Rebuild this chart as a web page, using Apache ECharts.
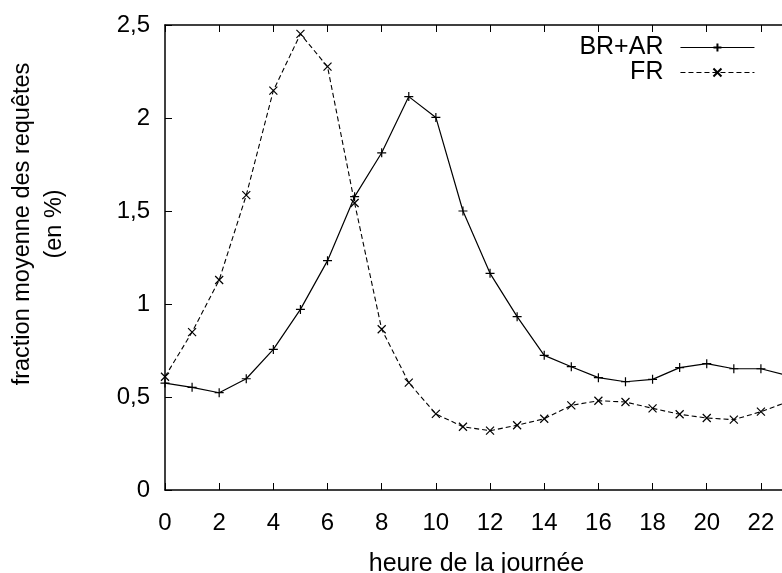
<!DOCTYPE html>
<html>
<head>
<meta charset="utf-8">
<script src="https://cdn.jsdelivr.net/npm/echarts@6/dist/echarts.min.js"></script>
<style>
html,body{margin:0;padding:0;background:#fff;}
#chart{width:782px;height:573px;}
</style>
</head>
<body>
<div id="chart"></div>
<script>
// Data
const hours = [0,1,2,3,4,5,6,7,8,9,10,11,12,13,14,15,16,17,18,19,20,21,22,23];
const brar = [0.575,0.552,0.523,0.598,0.756,0.971,1.233,1.577,1.813,2.115,2.003,1.50,1.165,0.932,0.724,0.663,0.604,0.582,0.595,0.658,0.679,0.652,0.652,0.615];
const fr   = [0.609,0.849,1.129,1.585,2.147,2.452,2.276,1.543,0.864,0.577,0.409,0.340,0.319,0.348,0.383,0.455,0.480,0.473,0.439,0.407,0.387,0.378,0.421,0.475];
const seriesNames = ['BR+AR','FR'];
const xTitle = 'heure de la journée';
const yTitle = 'fraction moyenne des requêtes\n(en %)';

const FONT = '"Liberation Sans", Arial, Helvetica, sans-serif';
const chart = echarts.init(document.getElementById('chart'), null, {renderer:'canvas'});
const pair = (arr) => hours.map((h,i)=>[h, arr[i]]);
const plus = 'path://M0,5L10,5M5,0L5,10';
const cross = 'path://M0,0L10,10M10,0L0,10';

chart.setOption({
  backgroundColor:'#fff',
  animation:false,
  textStyle:{fontFamily:FONT, color:'#000'},
  grid:{left:165, top:25, right:-6, bottom:83, containLabel:false, outerBoundsMode:'none'},
  legend:{
    orient:'vertical', right:22, top:30, align:'right',
    itemWidth:74, itemHeight:10, itemGap:0,
    lineStyle:{width:1.1},
    textStyle:{fontSize:25, color:'#000', fontFamily:FONT, padding:[0,12,0,0]},
    data:seriesNames
  },
  xAxis:[{
    type:'value', min:0, max:23, interval:2, position:'bottom',
    name:xTitle, nameLocation:'middle', nameGap:62,
    nameTextStyle:{fontSize:25, color:'#000', fontFamily:FONT},
    axisLine:{show:true, lineStyle:{color:'#000', width:1.5}},
    axisTick:{show:true, inside:true, length:7, lineStyle:{color:'#000', width:1}},
    axisLabel:{fontSize:24, color:'#000', margin:21, fontFamily:FONT,
      formatter:(v)=> v>22 ? '' : String(v)},
    splitLine:{show:false}
  },{
    type:'value', min:0, max:23, interval:2, position:'top',
    axisLine:{show:true, lineStyle:{color:'#000', width:1.5}},
    axisTick:{show:true, inside:true, length:7, lineStyle:{color:'#000', width:1}},
    axisLabel:{show:false},
    splitLine:{show:false}
  }],
  yAxis:[{
    type:'value', min:0, max:2.5, interval:0.5,
    axisLine:{show:true, lineStyle:{color:'#000', width:1.5}},
    axisTick:{show:true, inside:true, length:7, lineStyle:{color:'#000', width:1}},
    axisLabel:{fontSize:24, color:'#000', margin:15, fontFamily:FONT,
      formatter:(v)=> String(v).replace('.', ',')},
    splitLine:{show:false}
  }],
  graphic:[{
    type:'text', x:39, y:224, rotation:Math.PI/2,
    style:{text:yTitle, fontSize:23.5, fontFamily:FONT, fill:'#000',
      align:'center', verticalAlign:'middle', lineHeight:32}
  }],
  series:[{
    name:seriesNames[0], type:'line', data:pair(brar),
    symbol:plus, symbolSize:9, showAllSymbol:true,
    lineStyle:{color:'#000', width:1.2, type:'solid'},
    itemStyle:{color:'#000', borderColor:'#000', borderWidth:1.2},
    emphasis:{disabled:true}
  },{
    name:seriesNames[1], type:'line', data:pair(fr),
    symbol:cross, symbolSize:8, showAllSymbol:true,
    lineStyle:{color:'#000', width:1.1, type:[5,3]},
    itemStyle:{color:'#000', borderColor:'#000', borderWidth:1.2},
    emphasis:{disabled:true}
  }]
});
</script>
</body>
</html>
